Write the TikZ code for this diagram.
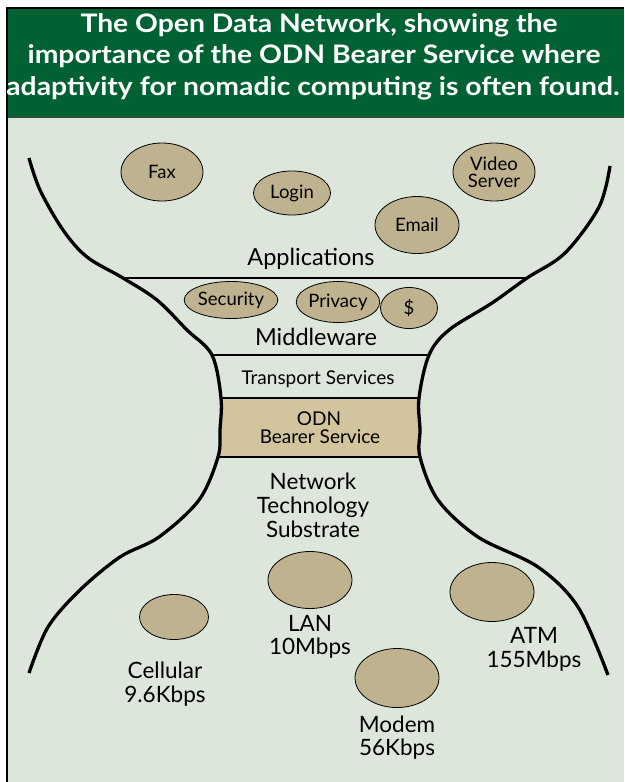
\documentclass[tikz,border=0pt]{standalone}
\usepackage{fontspec}
\setmainfont{Lato}
\usetikzlibrary{shapes.geometric}
\definecolor{hdr}{RGB}{0,98,50}
\definecolor{bgc}{RGB}{221,230,218}
\definecolor{tanc}{RGB}{191,179,143}
\definecolor{boxtan}{RGB}{210,197,157}
\begin{document}
\begin{tikzpicture}[x=1pt,y=-1pt,
  blob/.style={ellipse, draw=black, line width=0.8pt, fill=tanc, inner sep=0pt, align=center,
               font=\fontsize{18.5}{17}\selectfont},
  ttl/.style={anchor=base, inner sep=0pt, text=white, font=\bfseries\fontsize{25.5}{28}\selectfont},
  big/.style={anchor=base, inner sep=0pt, font=\fontsize{23.5}{24}\selectfont},
  mid/.style={anchor=base, inner sep=0pt, font=\fontsize{19}{20}\selectfont},
  low/.style={anchor=base, inner sep=0pt, font=\fontsize{22.5}{24}\selectfont},
  hline/.style={line width=2.2pt},
  funnel/.style={line width=3.3pt}]
\useasboundingbox (0,0) rectangle (624,782);
% frame
\fill[bgc] (7,8) rectangle (624,782);
\fill[hdr] (7,8) rectangle (624,117);
\draw[line width=1pt, black!75] (7,117) -- (624,117);
\draw[line width=1.6pt] (7,782) -- (7,8) -- (624,8);
% title
\node[ttl] (t1) at (319,32) {\scalebox{1.11}[1]{The Open Data Network, showing the}};
\node[ttl] (t2) at (314,63) {\scalebox{1.11}[1]{importance of the ODN Bearer Service where}};
\node[ttl] (t3) at (313,95) {\scalebox{1.11}[1]{adaptivity for nomadic computing is often found.}};
% funnel interior: bearer band and layer lines
\begin{scope}
\clip plot[smooth,tension=0.55] coordinates {(29,158) (40,190) (63,230) (87,257) (123,278) (157,300) (187,330) (212,355) (221,398) (220,430) (218,457) (199,500) (159,537) (120,557) (80,590) (48,627) (29,673)}
  -- plot[smooth,tension=0.55] coordinates {(608,675) (578,607) (538,567) (478,537) (438,500) (420,457) (420,430) (419,398) (429,355) (449,330) (492,303) (527,278) (565,253) (599,207) (610,166)}
  -- cycle;
\fill[boxtan] (0,398) rectangle (624,457);
\draw[hline] (0,278) -- (624,278);
\draw[hline] (0,355) -- (624,355);
\draw[hline] (0,398) -- (624,398);
\draw[hline] (0,457) -- (624,457);
\end{scope}
% funnel walls
\draw[funnel] plot[smooth,tension=0.55] coordinates {(29,158) (40,190) (63,230) (87,257) (123,278) (157,300) (187,330) (212,355) (221,398) (220,430) (218,457) (199,500) (159,537) (120,557) (80,590) (48,627) (29,673)};
\draw[funnel] plot[smooth,tension=0.55] coordinates {(608,675) (578,607) (538,567) (478,537) (438,500) (420,457) (420,430) (419,398) (429,355) (449,330) (492,303) (527,278) (565,253) (599,207) (610,166)};
% applications
\node[blob, minimum width=82pt, minimum height=58pt] (fax) at (162,172) {Fax};
\node[blob, minimum width=77pt, minimum height=44pt] (login) at (292,193) {Login};
\node[blob, minimum width=82pt, minimum height=58pt] (video) at (494,172) {Video\\Server};
\node[blob, minimum width=84pt, minimum height=57pt] (email) at (417,225) {Email};
\node[big] (apps) at (311,265) {Applications};
% middleware
\node[blob, minimum width=80pt, minimum height=37pt] (security) at (231,300) {Security};
\node[blob, minimum width=78pt, minimum height=41pt] (privacy) at (338,302) {Privacy};
\node[blob, minimum width=57pt, minimum height=41pt] (dollar) at (409,308) {\$};
\node[big] (midw) at (316,345) {Middleware};
\node[mid] (transport) at (318,384) {Transport Services};
\node[mid] (odn1) at (319,425) {ODN};
\node[mid] (odn2) at (320,443) {Bearer Service};
% substrate
\node[low] (net1) at (313,489) {Network};
\node[low] (net2) at (313,513) {Technology};
\node[low] (net3) at (313,537) {Substrate};
\node[blob, minimum width=84pt, minimum height=57pt] (lan) at (310,580) {};
\node[blob, minimum width=69pt, minimum height=45pt] (cell) at (174,617) {};
\node[blob, minimum width=84pt, minimum height=59pt] (atm) at (492,592) {};
\node[blob, minimum width=84pt, minimum height=59pt] (modem) at (397,678) {};
\node[low] (lan1) at (310,631) {LAN};
\node[low] (lan2) at (310,654) {10Mbps};
\node[low] (cell1) at (165,678) {Cellular};
\node[low] (cell2) at (165,702) {9.6Kbps};
\node[low] (atm1) at (534,643) {ATM};
\node[low] (atm2) at (534,667) {155Mbps};
\node[low] (modem1) at (397,732) {Modem};
\node[low] (modem2) at (397,755) {56Kbps};
\end{tikzpicture}
\end{document}
